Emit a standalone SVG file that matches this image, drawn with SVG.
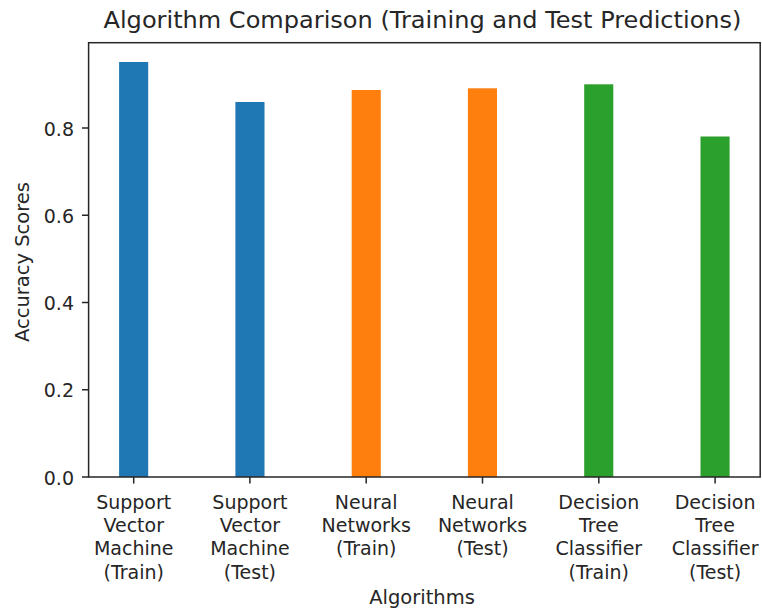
<svg xmlns="http://www.w3.org/2000/svg" width="762" height="611" viewBox="0 0 762 611">
  <style>
    text { font-family: "DejaVu Sans", "Liberation Sans", sans-serif; fill: #262626; }
    .tick { font-size: 19px; }
    .xt { font-size: 19px; text-anchor: middle; }
    .lab { font-size: 19.5px; text-anchor: middle; }
    .title { font-size: 22.5px; text-anchor: middle; }
    .spine { stroke: #262626; stroke-width: 1.5; fill: none; }
    .tk { stroke: #262626; stroke-width: 1.5; }
    .c0 { fill: #1f77b4; }
    .c1 { fill: #ff7f0e; }
    .c2 { fill: #2ca02c; }
  </style>
  <rect width="762" height="611" fill="#ffffff"/>

  <!-- bars: baseline y=477, 436.25 px per unit -->
  <g id="bars">
    <rect id="svm-train" class="c0" x="119.1" y="62" width="29.1" height="415"/>
    <rect id="svm-test" class="c0" x="235.4" y="102" width="29.1" height="375"/>
    <rect id="nn-train" class="c1" x="351.7" y="90" width="29.1" height="387"/>
    <rect id="nn-test" class="c1" x="467.9" y="88.3" width="29.1" height="388.7"/>
    <rect id="dt-train" class="c2" x="584.2" y="84.3" width="29.1" height="392.7"/>
    <rect id="dt-test" class="c2" x="700.5" y="136.5" width="29.1" height="340.5"/>
  </g>

  <!-- axes frame and ticks -->
  <g id="axes">
    <rect class="spine" x="88.6" y="42.7" width="671.6" height="434.3"/>
    <g id="yticks">
      <line class="tk" x1="82" y1="477" x2="88.6" y2="477"/>
      <line class="tk" x1="82" y1="389.75" x2="88.6" y2="389.75"/>
      <line class="tk" x1="82" y1="302.5" x2="88.6" y2="302.5"/>
      <line class="tk" x1="82" y1="215.25" x2="88.6" y2="215.25"/>
      <line class="tk" x1="82" y1="128" x2="88.6" y2="128"/>
      <text class="tick" x="74" y="484.5" text-anchor="end">0.0</text>
      <text class="tick" x="74" y="397.25" text-anchor="end">0.2</text>
      <text class="tick" x="74" y="310" text-anchor="end">0.4</text>
      <text class="tick" x="74" y="222.75" text-anchor="end">0.6</text>
      <text class="tick" x="74" y="135.5" text-anchor="end">0.8</text>
    </g>
    <g id="xticks">
      <line class="tk" x1="133.7" y1="477" x2="133.7" y2="483.6"/>
      <line class="tk" x1="249.9" y1="477" x2="249.9" y2="483.6"/>
      <line class="tk" x1="366.2" y1="477" x2="366.2" y2="483.6"/>
      <line class="tk" x1="482.5" y1="477" x2="482.5" y2="483.6"/>
      <line class="tk" x1="598.8" y1="477" x2="598.8" y2="483.6"/>
      <line class="tk" x1="715.1" y1="477" x2="715.1" y2="483.6"/>
    </g>
  </g>

  <g id="xlabels">
    <text class="xt" x="133.7" y="508.5"><tspan x="133.7">Support</tspan><tspan x="133.7" dy="23.4">Vector</tspan><tspan x="133.7" dy="23.4">Machine</tspan><tspan x="133.7" dy="23.4">(Train)</tspan></text>
    <text class="xt" x="249.9" y="508.5"><tspan x="249.9">Support</tspan><tspan x="249.9" dy="23.4">Vector</tspan><tspan x="249.9" dy="23.4">Machine</tspan><tspan x="249.9" dy="23.4">(Test)</tspan></text>
    <text class="xt" x="366.2" y="508.5"><tspan x="366.2">Neural</tspan><tspan x="366.2" dy="23.4">Networks</tspan><tspan x="366.2" dy="23.4">(Train)</tspan></text>
    <text class="xt" x="482.5" y="508.5"><tspan x="482.5">Neural</tspan><tspan x="482.5" dy="23.4">Networks</tspan><tspan x="482.5" dy="23.4">(Test)</tspan></text>
    <text class="xt" x="598.8" y="508.5"><tspan x="598.8">Decision</tspan><tspan x="598.8" dy="23.4">Tree</tspan><tspan x="598.8" dy="23.4">Classifier</tspan><tspan x="598.8" dy="23.4">(Train)</tspan></text>
    <text class="xt" x="715.1" y="508.5"><tspan x="715.1">Decision</tspan><tspan x="715.1" dy="23.4">Tree</tspan><tspan x="715.1" dy="23.4">Classifier</tspan><tspan x="715.1" dy="23.4">(Test)</tspan></text>
  </g>

  <text id="xaxis-label" class="lab" x="422" y="604">Algorithms</text>
  <text id="yaxis-label" class="lab" transform="translate(28.5 262) rotate(-90)" x="0" y="0">Accuracy Scores</text>
  <text id="title" class="title" x="422.5" y="28" textLength="638" lengthAdjust="spacingAndGlyphs">Algorithm Comparison (Training and Test Predictions)</text>
</svg>
